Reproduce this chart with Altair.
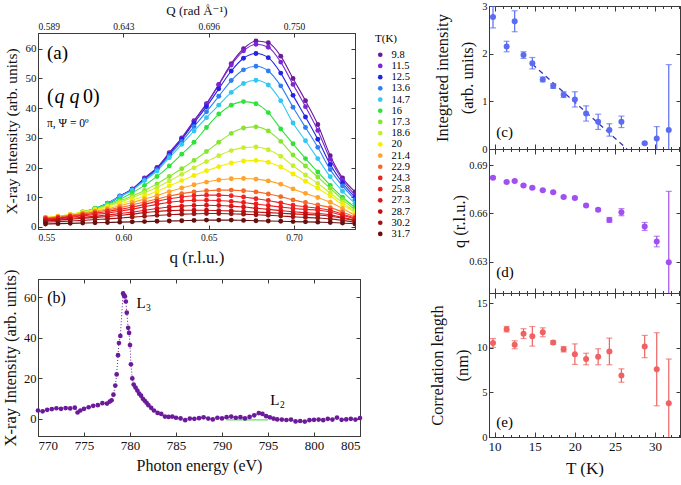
import altair as alt
import pandas as pd

FONT = "Liberation Serif, Times New Roman, Times, DejaVu Serif, serif"
AX = "#3a3a3a"

# ---------------- panel (a): q-scans at several temperatures ----------------
Q_GRID = [0.5544, 0.5617, 0.5689, 0.5762, 0.5834, 0.5907, 0.5979, 0.6052, 0.6124,
          0.6197, 0.6269, 0.6342, 0.6414, 0.6487, 0.6559, 0.6632, 0.6704, 0.6777,
          0.6849, 0.6922, 0.6994, 0.7067, 0.7139, 0.7212, 0.7284, 0.7357]
T_LABELS = ["9.8", "11.5", "12.5", "13.6", "14.7", "16", "17.3", "18.6", "20",
            "21.4", "22.9", "24.3", "25.8", "27.3", "28.7", "30.2", "31.7"]
T_COLORS = ["#6a1a9a", "#7d26d6", "#2323e6", "#2f7ff2", "#30c8f2", "#2ee23a",
            "#86e62e", "#c8ee30", "#f4ee00", "#ffa32a", "#f26b2a", "#f02323",
            "#ea1c1c", "#dc1616", "#c20e0e", "#9e1414", "#681010"]

I_98 = [2.0, 2.6, 3.6, 4.8, 6.2, 8.0, 10.4, 12.8, 16.5, 20.0, 25.0, 30.0, 35.8, 41.5, 48.0, 55.0, 60.0, 62.6, 62.0, 57.5, 50.0, 42.5, 34.5, 24.0, 16.5, 11.8]
I_115 = [2.1, 2.7, 3.6, 4.8, 6.1, 7.9, 10.3, 12.7, 16.3, 19.8, 24.8, 29.8, 35.5, 41.3, 47.8, 54.5, 59.3, 61.5, 60.5, 55.5, 48.0, 40.5, 32.5, 22.8, 15.8, 10.8]
I_125 = [2.2, 2.8, 3.7, 4.8, 6.1, 7.8, 10.2, 12.6, 16.1, 19.6, 24.5, 29.5, 35.0, 40.5, 46.5, 52.5, 56.8, 58.4, 57.0, 51.8, 44.3, 37.0, 29.5, 21.0, 14.8, 10.0]
I_136 = [2.3, 2.9, 3.8, 4.9, 6.2, 7.9, 10.2, 12.5, 15.9, 19.3, 24.0, 28.8, 33.8, 38.8, 44.0, 49.3, 52.9, 54.1, 52.5, 47.5, 40.3, 33.5, 26.8, 19.3, 13.8, 9.2]
I_147 = [2.4, 3.0, 3.9, 5.0, 6.3, 8.0, 10.2, 12.4, 15.6, 18.8, 23.3, 27.8, 32.3, 36.8, 41.0, 45.3, 48.3, 49.4, 47.8, 42.5, 35.0, 29.0, 23.0, 16.9, 12.0, 8.0]
I_160 = [2.6, 3.2, 4.0, 5.0, 6.2, 7.6, 9.3, 11.5, 14.0, 17.0, 20.5, 24.5, 28.5, 33.5, 38.0, 41.0, 42.2, 41.5, 38.5, 33.0, 28.0, 23.0, 18.5, 14.0, 10.0, 6.6]
I_173 = [2.9, 3.4, 4.1, 5.0, 6.1, 7.3, 8.7, 10.4, 12.3, 14.5, 17.0, 19.6, 22.4, 25.4, 28.5, 31.5, 33.3, 33.7, 32.3, 28.8, 24.2, 20.5, 16.8, 13.0, 9.2, 5.8]
I_186 = [3.0, 3.5, 4.2, 5.0, 5.9, 7.0, 8.3, 9.8, 11.5, 13.3, 15.5, 17.7, 19.9, 22.0, 24.0, 25.7, 26.7, 26.9, 26.0, 23.8, 20.6, 17.5, 14.6, 11.4, 8.2, 5.2]
I_200 = [3.3, 3.6, 4.2, 4.9, 5.7, 6.6, 7.7, 9.0, 10.4, 12.0, 13.8, 15.6, 17.3, 18.9, 20.3, 21.5, 22.2, 22.4, 21.8, 20.2, 17.8, 15.4, 13.0, 10.4, 7.5, 4.8]
I_214 = [3.2, 3.5, 4.0, 4.6, 5.3, 6.1, 7.1, 8.2, 9.4, 10.6, 11.9, 13.1, 14.2, 15.1, 15.8, 16.2, 16.3, 16.1, 15.5, 14.4, 12.8, 11.3, 9.9, 8.3, 6.2, 3.9]
I_229 = [3.0, 3.3, 3.8, 4.4, 5.0, 5.7, 6.5, 7.4, 8.4, 9.4, 10.4, 11.2, 11.8, 12.2, 12.4, 12.4, 12.2, 11.8, 11.1, 10.2, 9.1, 8.2, 7.4, 6.5, 5.0, 3.3]
I_243 = [2.8, 3.1, 3.5, 4.0, 4.6, 5.2, 5.9, 6.7, 7.6, 8.6, 9.5, 10.1, 10.5, 10.7, 10.7, 10.5, 10.1, 9.5, 8.9, 8.1, 7.3, 6.8, 6.3, 5.6, 4.3, 3.0]
I_258 = [2.6, 2.9, 3.3, 3.7, 4.2, 4.7, 5.3, 6.0, 6.8, 7.6, 8.3, 8.7, 9.0, 9.0, 8.9, 8.6, 8.2, 7.7, 7.2, 6.7, 6.2, 5.9, 5.6, 5.0, 3.9, 2.7]
I_273 = [2.3, 2.6, 2.9, 3.2, 3.6, 4.0, 4.5, 5.0, 5.6, 6.2, 6.7, 7.0, 7.2, 7.3, 7.2, 7.0, 6.7, 6.3, 5.9, 5.5, 5.1, 4.8, 4.5, 4.1, 3.2, 2.3]
I_287 = [2.0, 2.3, 2.6, 2.9, 3.2, 3.5, 3.9, 4.3, 4.8, 5.2, 5.5, 5.6, 5.6, 5.6, 5.5, 5.4, 5.2, 5.0, 4.8, 4.6, 4.4, 4.2, 4.0, 3.6, 2.9, 2.0]
I_302 = [1.6, 1.8, 2.0, 2.2, 2.5, 2.7, 3.0, 3.3, 3.6, 3.9, 4.1, 4.3, 4.4, 4.5, 4.5, 4.4, 4.3, 4.1, 3.9, 3.7, 3.4, 3.2, 3.0, 2.7, 2.2, 1.6]
I_317 = [1.0, 1.1, 1.2, 1.3, 1.4, 1.5, 1.6, 1.7, 1.8, 1.9, 2.0, 2.1, 2.2, 2.3, 2.3, 2.3, 2.2, 2.1, 2.0, 1.9, 1.8, 1.7, 1.6, 1.5, 1.3, 1.0]
SERIES_A = [I_98, I_115, I_125, I_136, I_147, I_160, I_173, I_186, I_200,
            I_214, I_229, I_243, I_258, I_273, I_287, I_302, I_317]

Q_TICKS = [0.55, 0.60, 0.65, 0.70]
Q_TOP_LABELS = ["0.589", "0.643", "0.696", "0.750"]
I_TICKS_A = [0, 10, 20, 30, 40, 50, 60]

# ---------------- panel (b): energy scan ----------------
E_B = [770.0, 770.5, 771.0, 771.5, 772.0, 772.5, 773.0, 773.5, 774.0, 774.3, 774.6,
       775.0, 775.5, 776.0, 776.5, 777.0, 777.5, 777.8, 778.0, 778.2, 778.4, 778.55,
       778.7, 778.8, 778.95, 779.25, 779.35, 779.45, 779.55, 779.65, 779.8, 779.9,
       780.0, 780.1, 780.25, 780.4, 780.6, 780.8, 781.0, 781.2, 781.4, 781.6, 781.8,
       782.0, 782.3, 782.6, 783.0, 783.4, 783.8, 784.2, 784.6, 785.0, 785.5, 786.0,
       786.5, 787.0, 787.5, 788.0, 788.5, 789.0, 789.5, 790.0, 790.5, 791.0, 791.5,
       792.0, 792.5, 793.0, 793.5, 794.0, 794.4, 794.8, 795.2, 795.6, 796.0, 796.5,
       797.0, 797.5, 798.0, 798.5, 799.0, 799.5, 800.0, 800.5, 801.0, 801.5, 802.0,
       802.5, 803.0, 803.5, 804.0, 804.5, 805.0]
I_B = [4.2, 3.8, 4.5, 4.9, 5.3, 5.0, 5.4, 5.2, 5.6, 3.2, 4.2,
       5.0, 5.8, 6.5, 6.8, 7.8, 7.6, 8.6, 9.2, 12.0, 16.5, 22.0,
       31.5, 37.5, 41.0, 62.0, 61.0, 60.5, 58.0, 52.5, 45.0, 42.5,
       36.5, 27.0, 20.0, 17.0, 15.5, 14.0, 12.5, 11.5, 10.0, 9.0, 8.0,
       6.8, 5.5, 4.2, 3.0, 2.5, 1.2, 1.0, 1.2, 0.6, 0.3, -0.6,
       0.2, 0.1, 0.4, 0.8, 0.2, -0.2, 0.6, 0.3, 0.9, 1.2, 0.6,
       0.9, 0.3, 1.0, 1.8, 2.9, 2.5, 1.4, 0.8, 0.2, -0.2, -0.3,
       -0.5, -0.3, -1.2, -1.0, -1.3, -0.6, -0.4, -0.3, -0.6, 0.1, -0.3,
       0.7, -0.4, -0.2, 0.1, -0.3, 0.5]
BASE_E = [790.5, 795.0]
BASE_I = [-0.4, -0.4]
E_TICKS = [770, 775, 780, 785, 790, 795, 800, 805]
I_TICKS_B = [0, 20, 40, 60]

# ---------------- panels (c)-(e): fit parameters vs T ----------------
T_FIT = [9.8, 11.5, 12.5, 13.6, 14.7, 16.0, 17.3, 18.6, 20.0, 21.4, 22.9, 24.3,
         25.8, 28.7, 30.2, 31.7]
INT_C = [2.77, 2.15, 2.68, 1.97, 1.80, 1.46, 1.32, 1.14, 1.04, 0.745, 0.57, 0.40,
         0.57, 0.12, 0.22, 0.40]
INT_ERR = [0.23, 0.11, 0.22, 0.07, 0.12, 0.05, 0.05, 0.06, 0.16, 0.16, 0.16, 0.13,
           0.12, 0.02, 0.25, 1.37]
Q_D = [0.6823, 0.6796, 0.6802, 0.6775, 0.6760, 0.6744, 0.6733, 0.6702, 0.6696,
       0.6650, 0.6623, 0.6560, 0.6608, 0.6519, 0.6425, 0.6295]
Q_ERR = [0.0005, 0.0005, 0.0005, 0.0005, 0.0005, 0.0005, 0.0005, 0.0005, 0.0006,
         0.0007, 0.0008, 0.0015, 0.0022, 0.0025, 0.0033, 0.0443]
XI_E = [10.55, 12.1, 10.35, 11.6, 11.3, 11.75, 10.6, 9.85, 9.3, 8.75, 9.0, 9.6,
        6.9, 10.15, 7.6, 3.8]
XI_ERR = [0.5, 0.3, 0.45, 0.55, 1.1, 0.5, 0.2, 0.3, 1.15, 0.65, 0.9, 1.5,
          0.75, 1.25, 4.1, 4.95]
FIT_T = [14.7, 26.5]
FIT_I = [1.78, 0.0]
T_MINOR = [10, 11, 12, 13, 14, 15, 16, 17, 18, 19, 20, 21, 22, 23, 24, 25, 26, 27,
           28, 29, 30, 31, 32, 33]


def inward(n=4):
    return alt.ExprRef(expr=str(-n))


def text_layer(df, xf, xs, yf, ys, size, style="normal", dx=0):
    return alt.Chart(df).mark_text(align="left", baseline="middle", font=FONT, fontSize=size,
                                   fontStyle=style, dx=dx).encode(
        x=alt.X(xf, scale=xs, axis=None), y=alt.Y(yf, scale=ys, axis=None), text="t:N")


# ======================= panel (a) =======================
rows = []
for t, vals in zip(T_LABELS, SERIES_A):
    for q, v in zip(Q_GRID, vals):
        rows.append({"q": q, "I": v, "T": t})
df_a = pd.DataFrame(rows)

xs_a = alt.Scale(domain=[0.55, 0.7357], nice=False, zero=False)
ys_a = alt.Scale(domain=[-0.7, 65.3], nice=False, zero=False)
ax_x_a = alt.Axis(orient="bottom", values=Q_TICKS, format=".2f", title="q (r.l.u.)", labelFontSize=9.5,
                  labelFont=FONT, titleFont=FONT, titleFontSize=17, tickSize=inward(), labelPadding=7,
                  titlePadding=8)
ax_y_a = alt.Axis(orient="left", values=I_TICKS_A, title="X-ray Intensity (arb. units)", labelFontSize=11,
                  labelFont=FONT, titleFont=FONT, titleFontSize=15.5, tickSize=inward(), labelPadding=6,
                  titlePadding=6)

lines_a = alt.Chart(df_a).mark_line(interpolate="monotone", strokeWidth=1.1, clip=True).encode(
    x=alt.X("q:Q", scale=xs_a, axis=None),
    y=alt.Y("I:Q", scale=ys_a, axis=None),
    stroke=alt.Stroke("T:N", scale=alt.Scale(domain=T_LABELS, range=T_COLORS), legend=None),
)
pts_a = alt.Chart(df_a).mark_circle(size=24, opacity=1, clip=True).encode(
    x=alt.X("q:Q", scale=xs_a, axis=ax_x_a),
    y=alt.Y("I:Q", scale=ys_a, axis=ax_y_a),
    color=alt.Color("T:N", scale=alt.Scale(domain=T_LABELS, range=T_COLORS),
                    legend=alt.Legend(title="T(K)", orient="none", legendX=337, legendY=27,
                                      titleFont=FONT, titleFontSize=11, titleFontWeight="normal",
                                      labelFont=FONT, labelFontSize=10.5, symbolType="circle",
                                      symbolSize=22, rowPadding=0.2, labelOffset=6,
                                      titlePadding=5.5, padding=0)),
)
label_expr = " : ".join(
    f"abs(datum.value - {v}) < 0.001 ? '{lab}'" for v, lab in zip(Q_TICKS[:-1], Q_TOP_LABELS[:-1])
) + f" : '{Q_TOP_LABELS[-1]}'"
top_a = alt.Chart(pd.DataFrame({"q": Q_TICKS})).mark_point(opacity=0).encode(
    x=alt.X("q:Q", scale=xs_a, axis=alt.Axis(orient="top", values=Q_TICKS, labelExpr=label_expr,
                                             title="Q (rad Å⁻¹)", labelFontSize=9.5, titleFontSize=13,
                                             labelFont=FONT, titleFont=FONT,
                                             tickSize=inward(), labelPadding=6, titlePadding=4))
)
right_a = alt.Chart(pd.DataFrame({"I": [0]})).mark_point(opacity=0).encode(
    y=alt.Y("I:Q", scale=ys_a, axis=alt.Axis(orient="right", values=I_TICKS_A, labels=False,
                                             title=None, tickSize=inward()))
)
txt_a = text_layer(pd.DataFrame({"q": [0.5553], "I": [58.4], "t": ["(a)"]}), "q:Q", xs_a, "I:Q", ys_a, 19)
qq0 = []
for piece, dx, style in [("(", 0, "normal"), ("q", 7.5, "italic"), ("q", 22.5, "italic"), ("0)", 36, "normal")]:
    qq0.append(text_layer(pd.DataFrame({"q": [0.5553], "I": [43.8], "t": [piece]}), "q:Q", xs_a, "I:Q",
                          ys_a, 20, style, dx))
pol = text_layer(pd.DataFrame({"q": [0.5553], "I": [34.8], "t": ["π, Ψ = 0º"]}), "q:Q", xs_a, "I:Q", ys_a, 11.5)

chart_a = alt.layer(lines_a, pts_a, top_a, right_a, txt_a, *qq0, pol).resolve_axis(
    x="independent", y="independent").properties(width=317, height=196)

# ======================= panel (b) =======================
PURPLE = "#6a1a9a"
df_b = pd.DataFrame({"E": E_B, "I": I_B})
xs_b = alt.Scale(domain=[770, 805], nice=False, zero=False)
ys_b = alt.Scale(domain=[-8.4, 69.1], nice=False, zero=False)
ax_x_b = alt.Axis(orient="bottom", values=E_TICKS, title="Photon energy (eV)", labelFontSize=13,
                  labelFont=FONT, titleFont=FONT, titleFontSize=16, tickSize=inward(), labelPadding=7,
                  titlePadding=5)
ax_y_b = alt.Axis(orient="left", values=I_TICKS_B, title="X-ray Intensity (arb. units)", labelFontSize=12.5,
                  labelFont=FONT, titleFont=FONT, titleFontSize=16.5, tickSize=inward(), labelPadding=6,
                  titlePadding=5)
line_b = alt.Chart(df_b).mark_line(color=PURPLE, strokeWidth=1, strokeDash=[1, 2]).encode(
    x=alt.X("E:Q", scale=xs_b, axis=None), y=alt.Y("I:Q", scale=ys_b, axis=None))
pts_b = alt.Chart(df_b).mark_circle(size=22, color=PURPLE, opacity=1).encode(
    x=alt.X("E:Q", scale=xs_b, axis=ax_x_b), y=alt.Y("I:Q", scale=ys_b, axis=ax_y_b))
base_b = alt.Chart(pd.DataFrame({"E": BASE_E, "I": BASE_I})).mark_line(
    color="#66dd66", strokeWidth=1.2).encode(
    x=alt.X("E:Q", scale=xs_b, axis=None), y=alt.Y("I:Q", scale=ys_b, axis=None))
top_b = alt.Chart(pd.DataFrame({"E": [780]})).mark_point(opacity=0).encode(
    x=alt.X("E:Q", scale=xs_b, axis=alt.Axis(orient="top", values=E_TICKS, labels=False, title=None,
                                             tickSize=inward())))
right_b = alt.Chart(pd.DataFrame({"I": [0]})).mark_point(opacity=0).encode(
    y=alt.Y("I:Q", scale=ys_b, axis=alt.Axis(orient="right", values=I_TICKS_B, labels=False,
                                             title=None, tickSize=inward())))
ann_b = pd.DataFrame({"E": [771.0], "I": [59.8], "t": ["(b)"]})
ll_b = pd.DataFrame({"E": [780.7, 795.25], "I": [57.3, 9.2], "t": ["L", "L"]})
sub_b = pd.DataFrame({"E": [781.75, 796.3], "I": [54.7, 6.7], "t": ["3", "2"]})
txt_b = text_layer(ann_b, "E:Q", xs_b, "I:Q", ys_b, 16)
txt_b1 = text_layer(ll_b, "E:Q", xs_b, "I:Q", ys_b, 15)
txt_b2 = text_layer(sub_b, "E:Q", xs_b, "I:Q", ys_b, 9.5)
chart_b = alt.layer(line_b, base_b, pts_b, top_b, right_b, txt_b, txt_b1, txt_b2).resolve_axis(
    x="independent", y="independent").properties(width=322, height=157)

# ======================= panels (c)-(e) =======================
xs_t = alt.Scale(domain=[9.3, 33.1], nice=False, zero=False)
MINOR_SIZE = {"condition": {"test": "datum.value % 5 === 0", "value": -5}, "value": -2.5}


def make_panel(vals, errs, color, ydom, yvals, yfmt, ytitle, label, label_y, bottom_labels,
               extra=None, title_pad=6):
    lo = [v - e for v, e in zip(vals, errs)]
    hi = [v + e for v, e in zip(vals, errs)]
    df = pd.DataFrame({"T": T_FIT, "v": vals, "lo": lo, "hi": hi})
    ys = alt.Scale(domain=ydom, nice=False, zero=False)
    if bottom_labels:
        xax = alt.Axis(orient="bottom", values=T_MINOR,
                       labelExpr="datum.value % 5 === 0 ? datum.label : ''",
                       title="T (K)", labelFontSize=13, titleFontSize=17, tickSize=MINOR_SIZE,
                       labelFont=FONT, titleFont=FONT, labelPadding=8, titlePadding=7)
    else:
        xax = alt.Axis(orient="bottom", values=T_MINOR, labels=False, title=None, tickSize=MINOR_SIZE)
    yax = alt.Axis(orient="left", values=yvals, format=yfmt, title=ytitle, labelFontSize=10.5,
                   labelFont=FONT, titleFont=FONT, titleFontSize=16.5, titleLineHeight=25,
                   tickSize=inward(), labelPadding=6, titlePadding=title_pad)
    xn = alt.X("T:Q", scale=xs_t, axis=None)
    rule = alt.Chart(df).mark_rule(color=color, strokeWidth=1.2, clip=True).encode(
        x=xn, y=alt.Y("lo:Q", scale=ys, axis=None), y2="hi:Q")
    cap_lo = alt.Chart(df).mark_tick(color=color, orient="horizontal", size=6, thickness=1.2,
                                     clip=True).encode(x=xn, y=alt.Y("lo:Q", scale=ys, axis=None))
    cap_hi = alt.Chart(df).mark_tick(color=color, orient="horizontal", size=6, thickness=1.2,
                                     clip=True).encode(x=xn, y=alt.Y("hi:Q", scale=ys, axis=None))
    pts = alt.Chart(df).mark_circle(color=color, size=36, opacity=1, clip=True).encode(
        x=alt.X("T:Q", scale=xs_t, axis=xax), y=alt.Y("v:Q", scale=ys, axis=yax))
    top = alt.Chart(pd.DataFrame({"T": [20]})).mark_point(opacity=0).encode(
        x=alt.X("T:Q", scale=xs_t, axis=alt.Axis(orient="top", values=T_MINOR, labels=False,
                                                 title=None, tickSize=MINOR_SIZE)))
    right = alt.Chart(pd.DataFrame({"v": [yvals[0]]})).mark_point(opacity=0).encode(
        y=alt.Y("v:Q", scale=ys, axis=alt.Axis(orient="right", values=yvals, labels=False,
                                               title=None, tickSize=inward())))
    txt = text_layer(pd.DataFrame({"T": [10.2], "v": [label_y], "t": [label]}), "T:Q", xs_t, "v:Q", ys, 15)
    layers = [rule, cap_lo, cap_hi, pts, top, right, txt]
    if extra is not None:
        layers = [extra(ys)] + layers
    return alt.layer(*layers).resolve_axis(x="independent", y="independent")


def fit_line(ys):
    return alt.Chart(pd.DataFrame({"T": FIT_T, "v": FIT_I})).mark_line(
        color="#3535b5", strokeDash=[5, 4], strokeWidth=1.3).encode(
        x=alt.X("T:Q", scale=xs_t, axis=None), y=alt.Y("v:Q", scale=ys, axis=None))


chart_c = make_panel(INT_C, INT_ERR, "#5a6cf2", [0, 3], [0, 1, 2, 3], "d",
                     ["Integrated intensity", "(arb. units)"], "(c)", 0.36, False,
                     extra=fit_line).properties(width=191, height=143)
chart_d = make_panel(Q_D, Q_ERR, "#a04ff0", [0.6104, 0.7002], [0.63, 0.66, 0.69], ".2f",
                     "q (r.l.u.)", "(d)", 0.6233, False, title_pad=1).properties(width=191, height=144)
chart_e = make_panel(XI_E, XI_ERR, "#f06262", [0, 16.16], [0, 5, 10, 15], "d",
                     ["Correlation length", "(nm)"], "(e)", 1.65, True).properties(width=191, height=144)

# invisible spacer that lowers panel (a) relative to panel (c)
SPACER = [0]
spacer = alt.Chart(pd.DataFrame({"s": SPACER})).mark_point(opacity=0).encode(
    x=alt.X("s:Q", axis=None), y=alt.Y("s:Q", axis=None)
).properties(width=1, height=27, view=alt.ViewBackground(strokeOpacity=0))

ab = alt.vconcat(chart_a, chart_b, spacing=50, bounds="flush")
left = alt.vconcat(spacer, ab, spacing=0, bounds="flush")
right = alt.vconcat(chart_c, chart_d, chart_e, spacing=0, bounds="flush")

chart = alt.hconcat(left, right, spacing=18).resolve_scale(color="independent").properties(
    padding={"left": 1, "top": 0, "right": 0, "bottom": 0}
).configure_view(stroke=AX, strokeWidth=1).configure_axis(
    labelFont=FONT, titleFont=FONT, titleFontWeight="normal", domainColor=AX, tickColor=AX,
    labelColor="#111", titleColor="#111", grid=False, tickWidth=1, domainWidth=1
).configure_legend(labelFont=FONT, titleFont=FONT)

chart.save("out.html", embed_options={"renderer": "svg", "actions": False})
